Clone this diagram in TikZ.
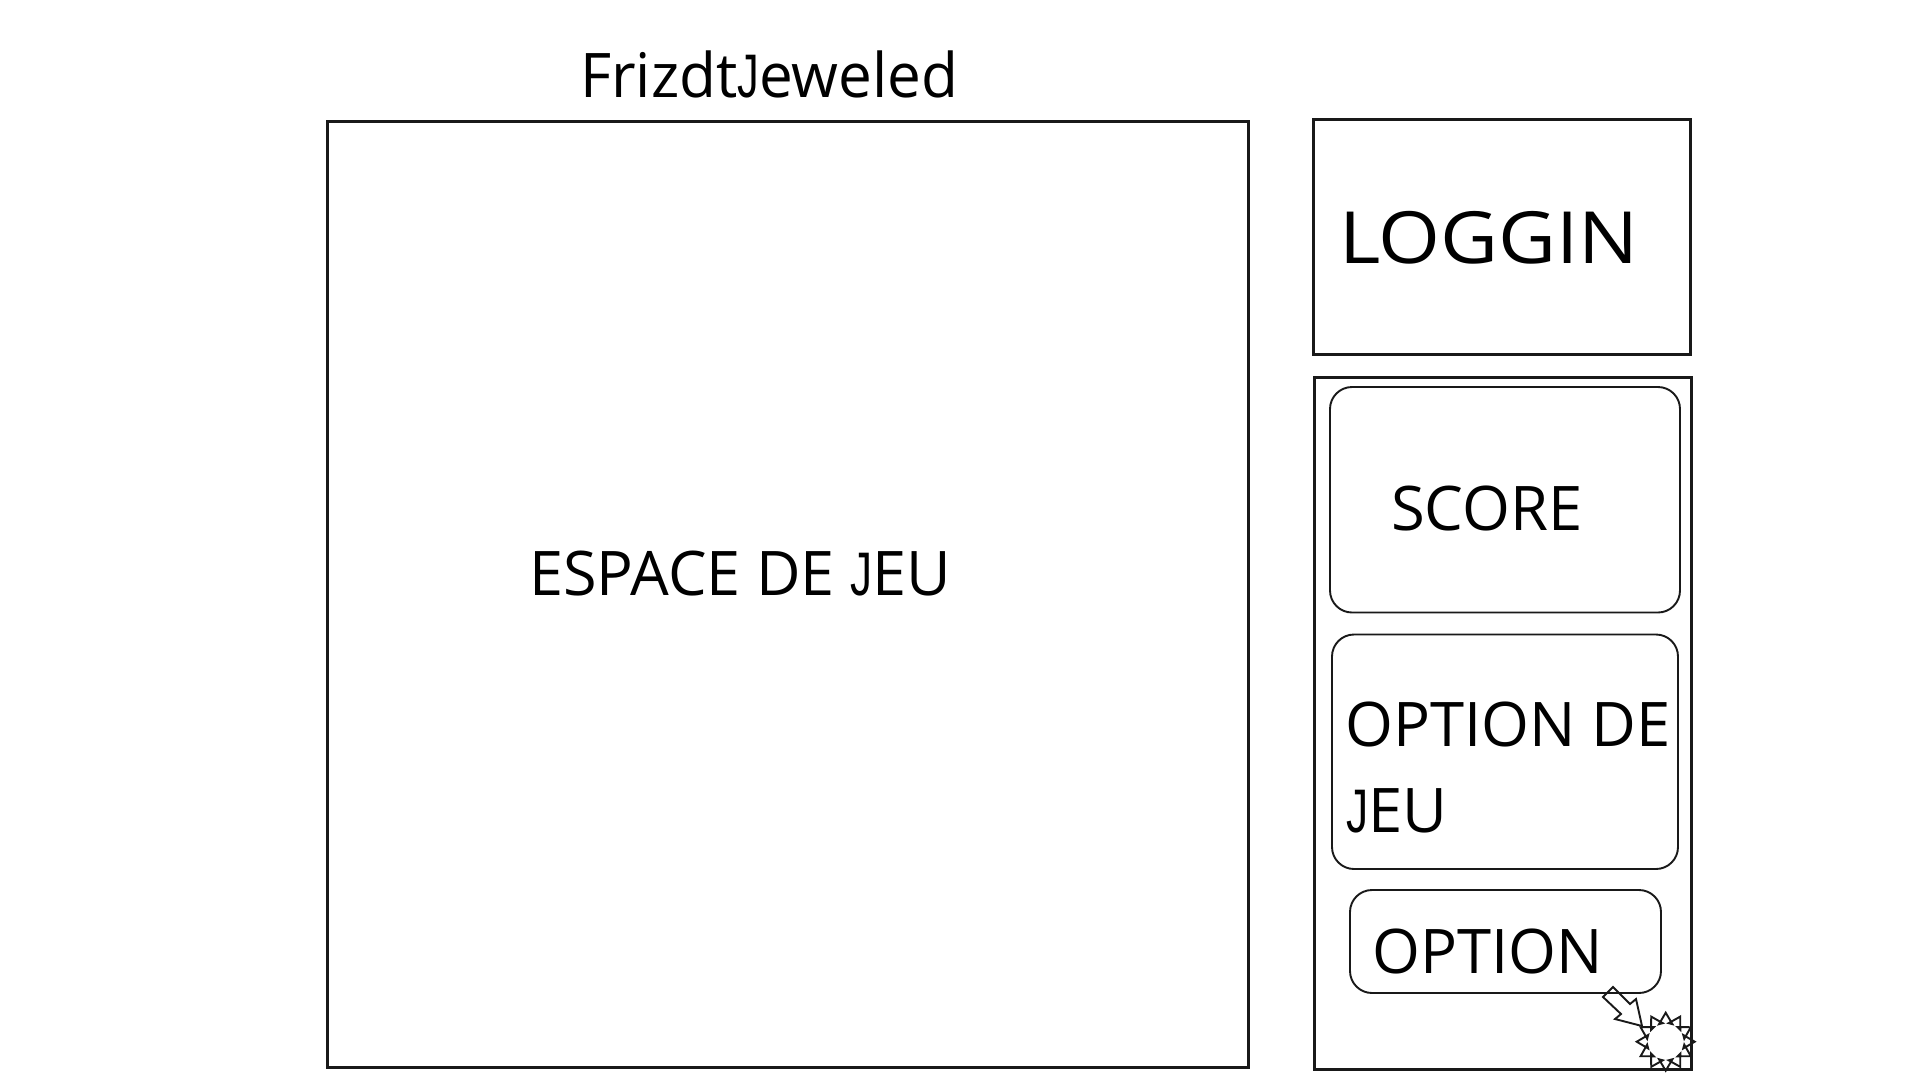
\documentclass[tikz,border=0pt]{standalone}
\usepackage{fontspec}
\setmainfont{Open Sans}
\newfontfamily\jfam{Liberation Sans}
\newcommand{\JJ}{\scalebox{.72}[1]{\jfam J}}
\tikzset{
  x=1pt,y=-1pt,
  panel/.style={draw=black!90,line width=3pt},
  pill/.style={draw=black!90,line width=1.9pt,rounded corners=22pt},
  label/.style={inner sep=0pt,anchor=base west,font=\fontsize{61.5}{61.5}\selectfont,text=black},
  cursor/.style={draw=black!90,line width=1.9pt,line join=miter},
}
\begin{document}
\begin{tikzpicture}
\useasboundingbox (0,0) rectangle (1920,1080);
\fill[white] (0,0) rectangle (1920,1080);
\draw[panel] (327,121) rectangle (1248,1067);
\draw[panel] (1313,119) rectangle (1690,354.5);
\draw[panel] (1314,377) rectangle (1691,1069.5);
\draw[pill] (1330,387) rectangle (1680,612.5);
\draw[pill] (1332,634.5) rectangle (1678,869);
\draw[pill] (1350,890) rectangle (1661,993);
\node[label,xscale=.98] (title) at (580,97) {Frizdt\JJ eweled};
\node[label,xscale=.994] (espace) at (529,595) {ESPACE DE \JJ EU};
\node[label,xscale=1.105,font=\fontsize{72}{72}\selectfont] (loggin) at (1339,263) {LOGGIN};
\node[label] (score) at (1391,530) {SCORE};
\node[label] (optionde) at (1345,746) {OPTION DE};
\node[label] (jeu) at (1346,832) {\JJ EU};
\node[label] (option) at (1372,973) {OPTION};
\draw[cursor] (1603,997) -- (1613,987) -- (1630,1004) -- (1636,999) -- (1642,1026) -- (1615,1019) -- (1621,1014) -- cycle;
\coordinate (burst) at (1665.7,1041.7);
\draw[cursor] ([shift={(0:29)}]burst)
  \foreach \a in {0,30,...,330} {
    -- ([shift={(\a+21:18.8)}]burst)
    -- ([shift={(\a+9:18.8)}]burst)
    -- ([shift={(\a+30:29)}]burst)
  } -- cycle;
\end{tikzpicture}
\end{document}
